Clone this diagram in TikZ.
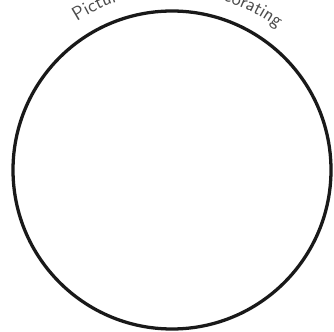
\documentclass[tikz,border=0pt]{standalone}
\usepackage{tikz}
\usetikzlibrary{decorations.text}

\begin{document}
\begin{tikzpicture}[
  ring/.style={draw=black!90, line width=2.8pt, circle, minimum size=9.54cm, inner sep=0pt},
  arctext/.style={decorate, decoration={text along path, text align=center,
    text={|\sffamily\fontsize{16.5}{18}\selectfont\color{black!70}|Picture with text decorating}}}
]
  \useasboundingbox (0,0) rectangle (10.02,9.93);
  \node[ring] (ring) at (5.16,4.83) {};
  \path[arctext] ([shift={(132:5.3)}]ring.center) arc[start angle=132, end angle=44, radius=5.3];
\end{tikzpicture}
\end{document}
